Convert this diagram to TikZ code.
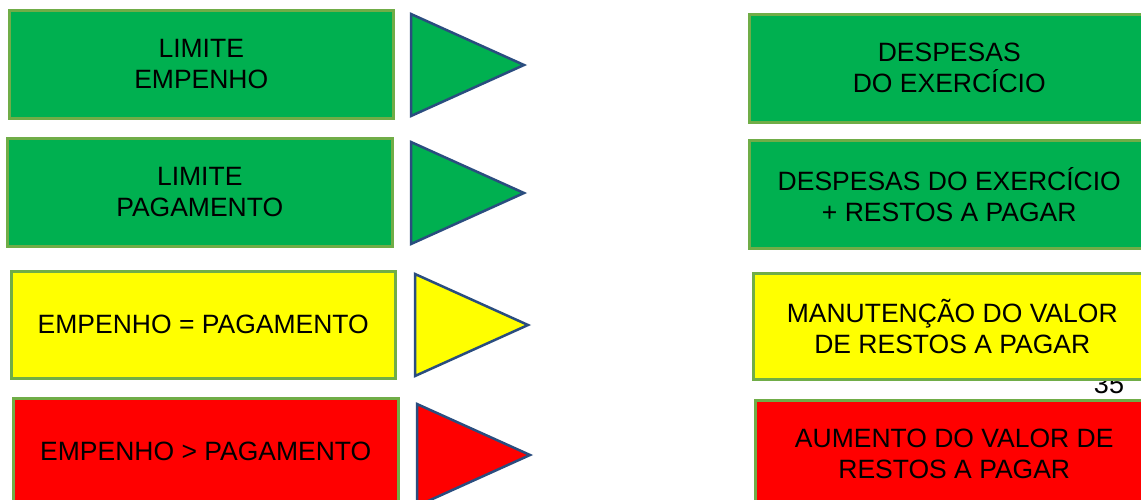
\documentclass[tikz,border=0pt]{standalone}
\usepackage{fontspec}
\setmainfont{Liberation Sans}
\definecolor{gfill}{HTML}{00B050}
\definecolor{yfill}{HTML}{FFFF00}
\definecolor{rfill}{HTML}{FF0000}
\definecolor{bord}{HTML}{70AD47}
\definecolor{tricol}{HTML}{2A4D7F}
\begin{document}
\begin{tikzpicture}[x=1pt,y=-1pt,
  box/.style={draw=bord,line width=2.5pt,anchor=north west,align=center,inner sep=0pt,
    font=\fontsize{26.5}{31}\selectfont},
  arrowtri/.style={draw=tricol,line width=2.5pt,line join=miter}]
\useasboundingbox (0,0) rectangle (1141,499);
\clip (0,0) rectangle (1141,499);
\fill[white] (0,0) rectangle (1141,499);
% page number (partly hidden by the yellow box)
\node[font=\fontsize{27}{30}\selectfont,anchor=base,inner sep=0pt] (pg) at (1109,393.5) {35};
% left boxes
\node[box,fill=gfill,minimum width=384pt,minimum height=108pt] (l1) at (8,9) {LIMITE\\EMPENHO};
\node[box,fill=gfill,minimum width=385pt,minimum height=108pt] (l2) at (6,137) {LIMITE\\PAGAMENTO};
\node[box,fill=yfill,minimum width=384pt,minimum height=107pt] (l3) at (10,270) {EMPENHO = PAGAMENTO};
\node[box,fill=rfill,minimum width=385pt,minimum height=107pt] (l4) at (12,397) {EMPENHO > PAGAMENTO};
% triangles
\draw[arrowtri,fill=gfill] (411,14) -- (524,65) -- (411,116) -- cycle;
\draw[arrowtri,fill=gfill] (411,142) -- (524,193) -- (411,244) -- cycle;
\draw[arrowtri,fill=yfill] (415,274) -- (528,325) -- (415,376) -- cycle;
\draw[arrowtri,fill=rfill] (417,404) -- (530,455) -- (417,506) -- cycle;
% right boxes
\node[box,fill=gfill,minimum width=400pt,minimum height=108pt] (r1) at (748,13) {DESPESAS\\DO EXERCÍCIO};
\node[box,fill=gfill,minimum width=400pt,minimum height=108pt] (r2) at (748,139) {DESPESAS DO EXERCÍCIO\\+ RESTOS A PAGAR};
\node[box,fill=yfill,minimum width=398pt,minimum height=106pt] (r3) at (752,272) {MANUTENÇÃO DO VALOR\\DE RESTOS A PAGAR};
\node[box,fill=rfill,minimum width=398pt,minimum height=108pt] (r4) at (754,399) {AUMENTO DO VALOR DE\\RESTOS A PAGAR};
\end{tikzpicture}
\end{document}
